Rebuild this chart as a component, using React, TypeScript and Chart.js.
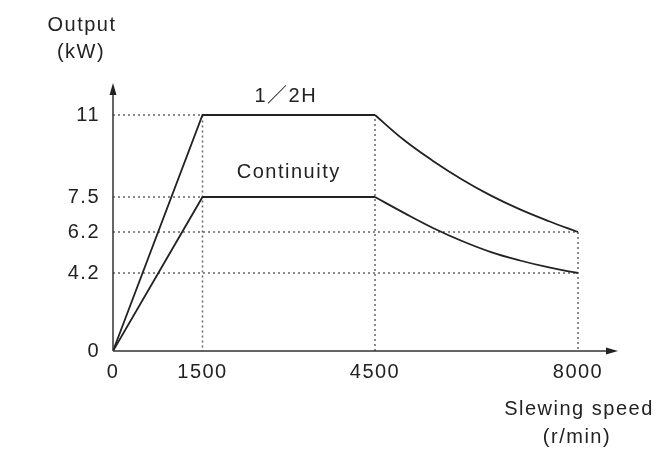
import React, { useEffect, useRef } from 'react';
import { Chart, registerables, LinearScale } from 'chart.js';

// ---- data ----
const X_TICKS = [0, 1500, 4500, 8000];
const Y_TICKS = [0, 4.2, 6.2, 7.5, 11];

const HALF_H_RAMP_X = [0, 1500, 4500];
const HALF_H_RAMP_Y = [0, 11, 11];
const HALF_H_CURVE_X = [4500, 5000, 5500, 6000, 6500, 7000, 7500, 8000];
const HALF_H_CURVE_Y = [11, 9.93, 9.04, 8.25, 7.56, 7.04, 6.6, 6.2];

const CONT_RAMP_X = [0, 1500, 4500];
const CONT_RAMP_Y = [0, 7.5, 7.5];
const CONT_CURVE_X = [4500, 5000, 5500, 6000, 6500, 7000, 7500, 8000];
const CONT_CURVE_Y = [7.5, 6.91, 6.35, 5.76, 5.22, 4.81, 4.47, 4.2];

const SERIES_LABELS = ['1／2H', 'Continuity'];
const X_TITLE = ['Slewing speed', '(r/min)'];
const Y_TITLE = ['Output', '(kW)'];

// schematic (non-uniform) axis knots: value -> relative offset along the axis
const X_KNOT_VALUES = [0, 1500, 4500, 8000, 8700];
const X_KNOT_OFFSETS = [0, 89.5, 262, 465, 505];
const Y_KNOT_VALUES = [0, 4.2, 6.2, 7.5, 11, 12.5];
const Y_KNOT_OFFSETS = [0, 78, 119, 154, 236, 268];

const FONT_FAMILY = '"Liberation Sans", Arial, "Noto Sans CJK SC", sans-serif';
const TEXT_COLOR = '#222';

function toFrac(v: number, vals: number[], offs: number[]) {
  const n = vals.length;
  const total = offs[n - 1];
  for (let i = 1; i < n; i++) {
    if (v <= vals[i] || i === n - 1) {
      const t = (v - vals[i - 1]) / (vals[i] - vals[i - 1]);
      return (offs[i - 1] + t * (offs[i] - offs[i - 1])) / total;
    }
  }
  return 0;
}
function fromFrac(f: number, vals: number[], offs: number[]) {
  const n = vals.length;
  const p = f * offs[n - 1];
  for (let i = 1; i < n; i++) {
    if (p <= offs[i] || i === n - 1) {
      const t = (p - offs[i - 1]) / (offs[i] - offs[i - 1]);
      return vals[i - 1] + t * (vals[i] - vals[i - 1]);
    }
  }
  return 0;
}

class SchematicScale extends LinearScale {
  static id = 'schematic';
  static defaults = LinearScale.defaults;
  knots() {
    return this.axis === 'x' ? [X_KNOT_VALUES, X_KNOT_OFFSETS] : [Y_KNOT_VALUES, Y_KNOT_OFFSETS];
  }
  getPixelForValue(value: any) {
    if (value === null || value === undefined || isNaN(value)) return NaN;
    const [v, o] = this.knots();
    return this.getPixelForDecimal(toFrac(+value, v, o));
  }
  getValueForPixel(pixel: number) {
    const [v, o] = this.knots();
    return fromFrac(this.getDecimalForPixel(pixel), v, o);
  }
}

Chart.register(...registerables, SchematicScale);

const pts = (xs: number[], ys: number[]) => xs.map((x, i) => ({ x, y: ys[i] }));

const decorPlugin = {
  id: 'decor',
  beforeUpdate(chart: any) {
    chart.ctx.letterSpacing = '1.5px';
  },
  beforeLayout(chart: any) {
    chart.ctx.letterSpacing = '1.5px';
  },
  beforeDraw(chart: any) {
    chart.ctx.letterSpacing = '1.5px';
  },
  afterDraw(chart: any) {
    const { ctx, chartArea, scales } = chart;
    const { left, right, top, bottom } = chartArea;
    ctx.save();
    ctx.letterSpacing = '1.5px';
    // axes
    ctx.strokeStyle = '#333';
    ctx.fillStyle = '#222';
    ctx.lineWidth = 1.5;
    ctx.beginPath();
    ctx.moveTo(left, bottom);
    ctx.lineTo(left, top + 8);
    ctx.moveTo(left, bottom);
    ctx.lineTo(right - 8, bottom);
    ctx.stroke();
    // arrow heads
    ctx.beginPath();
    ctx.moveTo(left, top);
    ctx.lineTo(left - 3.5, top + 12);
    ctx.lineTo(left + 3.5, top + 12);
    ctx.closePath();
    ctx.fill();
    ctx.beginPath();
    ctx.moveTo(right, bottom);
    ctx.lineTo(right - 12, bottom - 3.5);
    ctx.lineTo(right - 12, bottom + 3.5);
    ctx.closePath();
    ctx.fill();

    // texts
    ctx.fillStyle = TEXT_COLOR;
    ctx.font = `20px ${FONT_FAMILY}`;
    ctx.textAlign = 'center';
    ctx.textBaseline = 'middle';
    ctx.fillText(Y_TITLE[0], left - 31, top - 58);
    ctx.fillText(Y_TITLE[1], left - 32, top - 31);
    ctx.fillText(X_TITLE[0], right - 39, bottom + 58);
    ctx.fillText(X_TITLE[1], right - 41, bottom + 86);

    const xMid = scales.x.getPixelForValue(3000);
    ctx.fillText(SERIES_LABELS[0], xMid - 3, scales.y.getPixelForValue(11) - 19);
    ctx.fillText(SERIES_LABELS[1], xMid, scales.y.getPixelForValue(7.5) - 25);
    ctx.restore();
  },
};

export default function App() {
  const ref = useRef<HTMLCanvasElement | null>(null);
  useEffect(() => {
    if (!ref.current) return;
    const lineStyle = {
      borderColor: '#222',
      borderWidth: 1.8,
      pointRadius: 0,
      fill: false,
    };
    const guide = {
      borderColor: '#666',
      borderWidth: 1.5,
      borderDash: [2, 3],
      pointRadius: 0,
      fill: false,
      tension: 0,
    };
    const chart = new Chart(ref.current, {
      type: 'line',
      data: {
        datasets: [
          { ...lineStyle, label: '1/2H ramp', data: pts(HALF_H_RAMP_X, HALF_H_RAMP_Y), tension: 0, order: 0 },
          { ...lineStyle, label: '1/2H curve', data: pts(HALF_H_CURVE_X, HALF_H_CURVE_Y), tension: 0.4, order: 0 },
          { ...lineStyle, label: 'Cont ramp', data: pts(CONT_RAMP_X, CONT_RAMP_Y), tension: 0, order: 0 },
          { ...lineStyle, label: 'Cont curve', data: pts(CONT_CURVE_X, CONT_CURVE_Y), tension: 0.4, order: 0 },
          { ...guide, label: 'g11', data: [{ x: 0, y: HALF_H_RAMP_Y[1] }, { x: HALF_H_RAMP_X[1], y: HALF_H_RAMP_Y[1] }, { x: HALF_H_RAMP_X[1], y: 0 }], order: 5 },
          { ...guide, label: 'g75', data: [{ x: 0, y: CONT_RAMP_Y[1] }, { x: CONT_RAMP_X[1], y: CONT_RAMP_Y[1] }], order: 5 },
          { ...guide, label: 'g4500', data: [{ x: HALF_H_RAMP_X[2], y: 0 }, { x: HALF_H_RAMP_X[2], y: HALF_H_RAMP_Y[2] }], order: 5 },
          { ...guide, label: 'g62', data: [{ x: 0, y: HALF_H_CURVE_Y[7] }, { x: HALF_H_CURVE_X[7], y: HALF_H_CURVE_Y[7] }, { x: HALF_H_CURVE_X[7], y: 0 }], order: 5 },
          { ...guide, label: 'g42', data: [{ x: 0, y: CONT_CURVE_Y[7] }, { x: CONT_CURVE_X[7], y: CONT_CURVE_Y[7] }], order: 5 },
        ],
      },
      options: {
        animation: false,
        responsive: true,
        maintainAspectRatio: false,
        parsing: false as any,
        layout: { padding: { top: 83, right: 46, left: 0, bottom: 0 } },
        plugins: { legend: { display: false }, tooltip: { enabled: false } },
        scales: {
          x: {
            type: 'schematic' as any,
            min: 0,
            max: 8700,
            grid: { display: false, drawTicks: false, tickLength: 0 },
            border: { display: false },
            afterBuildTicks: (s: any) => {
              s.ticks = X_TICKS.map((v) => ({ value: v }));
            },
            afterFit: (s: any) => {
              s.height = 99;
            },
            ticks: {
              autoSkip: false,
              maxRotation: 0,
              padding: 9,
              color: TEXT_COLOR,
              font: { family: FONT_FAMILY, size: 20 },
              callback: (v: any) => String(v),
            },
          },
          y: {
            type: 'schematic' as any,
            min: 0,
            max: 12.5,
            grid: { display: false, drawTicks: false, tickLength: 0 },
            border: { display: false },
            afterBuildTicks: (s: any) => {
              s.ticks = Y_TICKS.map((v) => ({ value: v }));
            },
            afterFit: (s: any) => {
              s.width = 113;
            },
            ticks: {
              autoSkip: false,
              padding: 13,
              color: TEXT_COLOR,
              font: { family: FONT_FAMILY, size: 20 },
              callback: (v: any) => String(v),
            },
          },
        },
      } as any,
      plugins: [decorPlugin],
    });
    return () => chart.destroy();
  }, []);
  return (
    <div style={{ position: 'fixed', left: 0, top: 0, width: 664, height: 450, background: '#fff' }}>
      <canvas ref={ref} />
    </div>
  );
}
